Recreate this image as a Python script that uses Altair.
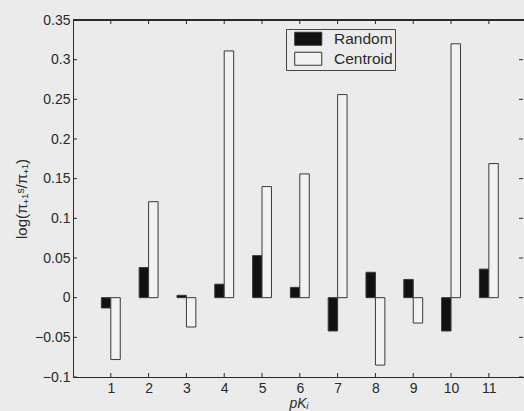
import altair as alt
import pandas as pd

# pK index of each group
pk = [1, 2, 3, 4, 5, 6, 7, 8, 9, 10, 11]
# log-ratio for the two sampling schemes
random_vals = [-0.013, 0.038, 0.003, 0.017, 0.053, 0.013, -0.042, 0.032, 0.023, -0.042, 0.036]
centroid_vals = [-0.078, 0.121, -0.037, 0.311, 0.140, 0.156, 0.256, -0.085, -0.032, 0.320, 0.169]
series_names = ["Random", "Centroid"]
y_ticks = [-0.1, -0.05, 0, 0.05, 0.1, 0.15, 0.2, 0.25, 0.3, 0.35]

rows = []
for k, r, c in zip(pk, random_vals, centroid_vals):
    rows.append({"pk": k, "series": "Random", "value": r})
    rows.append({"pk": k, "series": "Centroid", "value": c})
bars_df = pd.DataFrame(rows)
xt_df = pd.DataFrame({"pk": pk})
yt_df = pd.DataFrame({"v": y_ticks})

W, H = 451, 357
FONT = "Liberation Sans"
INK = "#2a2a2a"

xscale = alt.Scale(domain=[0, 11.93], nice=False, zero=False)
yscale = alt.Scale(domain=[-0.1, 0.35], nice=False, zero=False)

# one axis definition per channel, shared by every layer so they merge cleanly
x_axis = alt.Axis(
    values=pk, format="d", tickSize=0, labelPadding=4,
    domainColor=INK, labelColor=INK, labelFontSize=14, labelFont=FONT,
    labelOverlap=False, grid=False,
    title="pKᵢ", titleFont=FONT, titleFontSize=14,
    titleFontStyle="italic", titleFontWeight="normal", titleColor=INK,
    titlePadding=1,
)
y_axis = alt.Axis(
    values=y_ticks, tickSize=0, labelPadding=3,
    labelExpr="format(datum.value, '~g')", labelOverlap=False,
    domainColor=INK, labelColor=INK, labelFontSize=14, labelFont=FONT,
    grid=False, title="log(π₊₁ˢ/π₊₁)", titleFont=FONT, titleFontSize=15,
    titleFontWeight="normal", titleColor=INK, titlePadding=5,
)

bars = (
    alt.Chart(bars_df)
    .transform_calculate(
        x0="datum.series == 'Random' ? datum.pk - 0.25 : datum.pk",
        x1="datum.series == 'Random' ? datum.pk : datum.pk + 0.25",
    )
    .mark_bar(stroke="#3a3a3a", strokeWidth=1)
    .encode(
        x=alt.X("x0:Q", scale=xscale, axis=x_axis),
        x2="x1:Q",
        y=alt.Y("value:Q", scale=yscale, axis=y_axis),
        y2=alt.datum(0),
        fill=alt.Fill(
            "series:N",
            scale=alt.Scale(domain=series_names, range=["#111111", "#f2f2f2"]),
            legend=alt.Legend(
                title=None, orient="none", legendX=213, legendY=9,
                symbolType="M-2.08,-1L2.08,-1L2.08,1L-2.08,1Z", symbolSize=169,
                symbolStrokeColor="#333333", symbolStrokeWidth=1, symbolOffset=12.5,
                labelFont=FONT, labelFontSize=15.5, labelColor=INK, labelOffset=18,
                strokeColor="#444444", fillColor="#ececec", padding=2, rowPadding=2,
                offset=0,
            ),
        ),
    )
)

# top frame line
top_line = alt.Chart(xt_df).mark_rule(color=INK, strokeWidth=1).encode(
    x=alt.value(0), x2=alt.value(W), y=alt.value(0)
)

# inward ticks on bottom and top
x_ticks_bottom = alt.Chart(xt_df).mark_rule(color=INK, strokeWidth=1).encode(
    x=alt.X("pk:Q", scale=xscale, axis=x_axis), y=alt.value(H - 4), y2=alt.value(H)
)
x_ticks_top = alt.Chart(xt_df).mark_rule(color=INK, strokeWidth=1).encode(
    x=alt.X("pk:Q", scale=xscale, axis=x_axis), y=alt.value(0), y2=alt.value(4)
)
# inward ticks on left and right
y_ticks_left = alt.Chart(yt_df).mark_rule(color=INK, strokeWidth=1).encode(
    y=alt.Y("v:Q", scale=yscale, axis=y_axis), x=alt.value(0), x2=alt.value(4)
)
y_ticks_right = alt.Chart(yt_df).mark_rule(color=INK, strokeWidth=1).encode(
    y=alt.Y("v:Q", scale=yscale, axis=y_axis), x=alt.value(W - 5), x2=alt.value(W - 1)
)

chart = (
    alt.layer(bars, top_line, x_ticks_bottom, x_ticks_top, y_ticks_left, y_ticks_right)
    .properties(
        width=W, height=H,
        autosize=alt.AutoSizeParams(type="none"),
        padding={"left": 73, "top": 20, "right": 0, "bottom": 34},
        background="#ebebeb",
    )
    .configure_view(stroke=None)
    .configure_axis(domainWidth=1)
    .configure_legend(strokeColor="#444444", strokeWidth=1)
)

chart.save("out.html", embed_options={"renderer": "svg", "actions": False})
